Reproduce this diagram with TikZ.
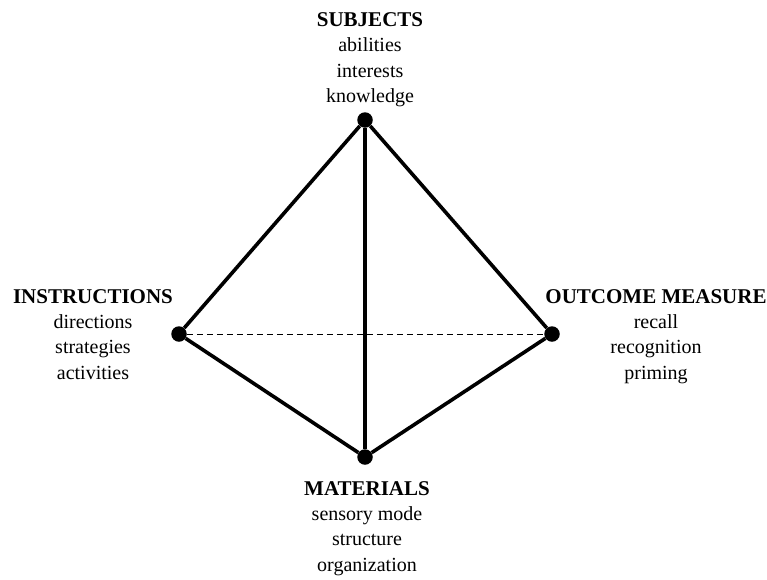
\documentclass[tikz,border=0pt]{standalone}
\usepackage{fontspec}
\setmainfont{Liberation Serif}
\usetikzlibrary{positioning}
\tikzset{vertex/.style={circle,fill=black,inner sep=0pt,minimum size=15.5pt},
  edge/.style={line width=3.6pt},
  hidden/.style={line width=1pt,dash pattern=on 6pt off 4pt},
  tlabel/.style={align=center,inner sep=0pt,font=\fontsize{20}{25.4}\selectfont}
}
\newcommand{\hd}[1]{{\fontsize{21}{25}\selectfont\bfseries #1}}

\begin{document}
\begin{tikzpicture}[x=1pt,y=-1pt]
  \useasboundingbox (0,0) rectangle (767,579);

  % Corners
    \node[vertex] (s) at (365,120) {};
    \node[vertex] (i) at (179,334) {};
    \node[vertex] (o) at (552,334) {};
    \node[vertex] (m) at (365,457) {};

    % Labels
    \node[tlabel, above=5pt of s, xshift=5pt] (sl) {\hd{SUBJECTS} \\ abilities \\ interests \\ knowledge};
    \node[tlabel, anchor=north] (il) at (93,289) {\hd{INSTRUCTIONS} \\ directions \\ strategies \\ activities};
    \node[tlabel, anchor=north] (ol) at (656,289) {\hd{OUTCOME MEASURE} \\ recall \\ recognition \\ priming};
    \node[tlabel, below=16pt of m, xshift=2pt] (ml) {\hd{MATERIALS} \\ sensory mode \\ structure \\ organization};

    % Edges
    \draw[edge] (s) -- (i);
    \draw[edge] (s) -- (o);
    \draw[edge] (s) -- (m);
    \draw[edge] (i) -- (m);
    \draw[edge] (o) -- (m);
    \draw[hidden] (i) -- (o);

  \end{tikzpicture}
\end{document}
